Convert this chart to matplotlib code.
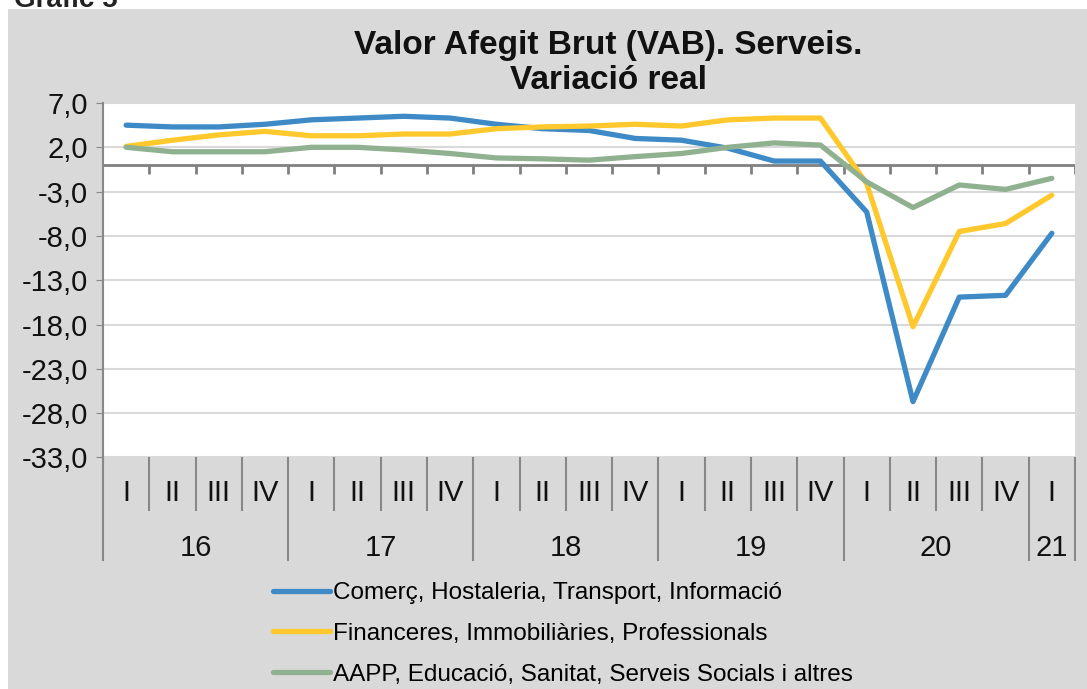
import matplotlib.pyplot as plt
from matplotlib.patches import Rectangle

plt.rcParams['font.family'] = ['Liberation Sans', 'DejaVu Sans']

quarters = ["I", "II", "III", "IV"] * 5 + ["I"]
years = ["16", "17", "18", "19", "20", "21"]
year_sizes = [4, 4, 4, 4, 4, 1]

comerc = [4.5, 4.3, 4.3, 4.6, 5.1, 5.3, 5.5, 5.3, 4.6, 4.1, 3.9,
          3.0, 2.8, 1.9, 0.45, 0.45, -5.3, -26.7, -14.9, -14.7, -7.7]
financeres = [2.1, 2.8, 3.4, 3.8, 3.3, 3.3, 3.5, 3.5, 4.1, 4.3, 4.4,
              4.6, 4.4, 5.1, 5.3, 5.3, -2.1, -18.25, -7.5, -6.6, -3.4]
aapp = [2.0, 1.5, 1.5, 1.5, 2.0, 2.0, 1.7, 1.3, 0.8, 0.7, 0.55,
        0.95, 1.3, 2.0, 2.5, 2.25, -1.9, -4.8, -2.25, -2.75, -1.5]

labels = ["Comerç, Hostaleria, Transport, Informació",
          "Financeres, Immobiliàries, Professionals",
          "AAPP, Educació, Sanitat, Serveis Socials i altres"]
colors = ["#3d8ac6", "#ffc82c", "#8fb18f"]

W, H = 1087, 689
fig = plt.figure(figsize=(W / 100, H / 100), dpi=100, facecolor="white")
fig.patches.append(Rectangle((8 / W, 0), 1, 1 - 9 / H, transform=fig.transFigure,
                             facecolor="#d9d9d9", edgecolor="none", zorder=-10))
fig.text(14 / W, 1.0, "Gràfic 5", fontsize=20, fontweight="bold", va="center",
         color="#222222")

ax = fig.add_axes([103 / W, (H - 457.5) / H, 972 / W, 354.5 / H])
ax.set_facecolor("white")

x = list(range(len(quarters)))
for vals, lab, c in zip([comerc, financeres, aapp], labels, colors):
    ax.plot(x, vals, color=c, lw=3.8, label=lab, solid_joinstyle="round",
            solid_capstyle="round", zorder=3)

ax.set_xlim(-0.5, len(quarters) - 0.5)
ax.set_ylim(-33, 7)
yt = list(range(7, -34, -5))
ax.set_yticks(yt)
ax.set_yticklabels([f"{v:.1f}".replace(".", ",") for v in yt], fontsize=21, color="#111111")
ax.grid(axis="y", color="#d9d9d9", lw=1.5)
ax.set_axisbelow(True)
ax.tick_params(axis="y", length=5, color="#888888", pad=6)
ax.set_xticks([])
for s in ["top", "right", "bottom"]:
    ax.spines[s].set_visible(False)
ax.spines["left"].set_color("#888888")
ax.spines["left"].set_linewidth(1.5)

# zero axis with category ticks
ax.axhline(0, color="#808080", lw=2, zorder=2)
bounds = [i + 0.5 for i in x]
ax.vlines(bounds, -1.0, 0, color="#808080", lw=2, zorder=2)

# two-level category axis
tr = ax.get_xaxis_transform()
for i, q in enumerate(quarters):
    ax.text(i, -0.1, q, transform=tr, ha="center", va="center", fontsize=21,
            color="#111111")
year_edges = [-0.5]
for n in year_sizes:
    year_edges.append(year_edges[-1] + n)
for b in bounds:
    if b in year_edges:
        continue
    ax.plot([b, b], [0, -0.148], transform=tr, color="#888888", lw=1.5, clip_on=False)
for b in year_edges:
    ax.plot([b, b], [0, -0.29], transform=tr, color="#888888", lw=1.5, clip_on=False)
for y, a, b in zip(years, year_edges[:-1], year_edges[1:]):
    ax.text((a + b) / 2, -0.255, y, transform=tr, ha="center", va="center",
            fontsize=21, color="#111111")

fig.text(608 / W, 1 - 63 / H, "Valor Afegit Brut (VAB). Serveis.\nVariació real",
         ha="center", va="center", fontsize=24, fontweight="bold", color="#111111",
         linespacing=1.15)

fig.legend(loc="upper left", bbox_to_anchor=(273 / W, 1 - 582 / H), frameon=False,
           fontsize=17.5, handlelength=2.35, handletextpad=0.1, labelspacing=0.78,
           borderpad=0, borderaxespad=0)

fig.savefig("out.png", dpi=100, facecolor="white")
